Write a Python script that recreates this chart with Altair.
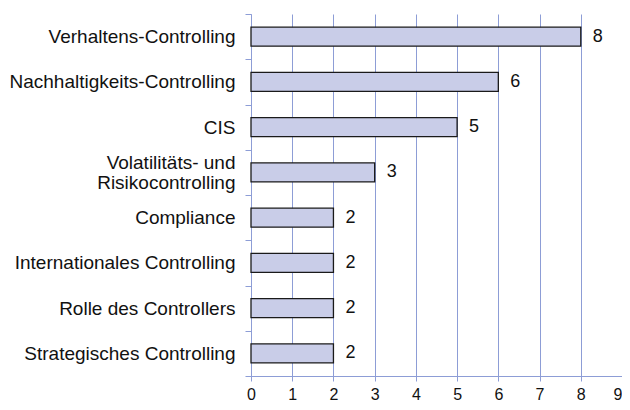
import altair as alt
import pandas as pd

categories = [
    "Verhaltens-Controlling",
    "Nachhaltigkeits-Controlling",
    "CIS",
    "Volatilitäts- und\nRisikocontrolling",
    "Compliance",
    "Internationales Controlling",
    "Rolle des Controllers",
    "Strategisches Controlling",
]
values = [8, 6, 5, 3, 2, 2, 2, 2]
x_ticks = list(range(0, 10))

df = pd.DataFrame({"cat": categories, "val": values})

FONT = "Liberation Sans"
BLUE = "#8D9DD6"

y_enc = alt.Y(
    "cat:N",
    sort=categories,
    title=None,
    scale=alt.Scale(paddingInner=0, paddingOuter=0),
    axis=alt.Axis(
        labelExpr="split(datum.label, '\\n')",
        tickBand="extent",
        ticks=True,
        tickSize=6,
        tickWidth=1,
        tickColor=BLUE,
        domainColor=BLUE,
        labelPadding=10,
        labelLimit=400,
        labelFont=FONT,
        labelFontSize=19,
        labelColor="#111111",
        labelLineHeight=20,
        labelBaseline={
            "condition": {
                "test": "datum.value == 'Volatilitäts- und\\nRisikocontrolling'",
                "value": "bottom",
            },
            "value": "middle",
        },
        grid=False,
    ),
)

x_enc = alt.X(
    "val:Q",
    title=None,
    scale=alt.Scale(domain=[0, 9], nice=False),
    axis=alt.Axis(
        values=x_ticks,
        grid=True,
        gridColor=BLUE,
        gridWidth=1,
        tickColor=BLUE,
        tickSize=5,
        domainColor=BLUE,
        labelFont=FONT,
        labelFontSize=16,
        labelColor="#111111",
        labelPadding=5,
        labelFlush=False,
        labelAlign={
            "condition": {"test": "datum.value == 9", "value": "right"},
            "value": "center",
        },
    ),
)

bars = alt.Chart(df).mark_bar(
    size=19, fill="#C9CDE8", stroke="#1a1a1a", strokeWidth=1.3
).encode(x=x_enc, y=y_enc)

texts = alt.Chart(df).mark_text(
    align="left", baseline="middle", dx=12, font=FONT, fontSize=18, color="#111111"
).encode(x=x_enc, y=y_enc, text="val:Q")

chart = (
    alt.layer(bars, texts)
    .properties(
        width=371,
        height=362,
        autosize=alt.AutoSizeParams(type="none"),
        padding={"left": 243, "top": 6, "right": 0, "bottom": 26},
    )
    .configure_view(stroke=None)
)

chart.save("out.html", embed_options={"renderer": "svg", "actions": False})
